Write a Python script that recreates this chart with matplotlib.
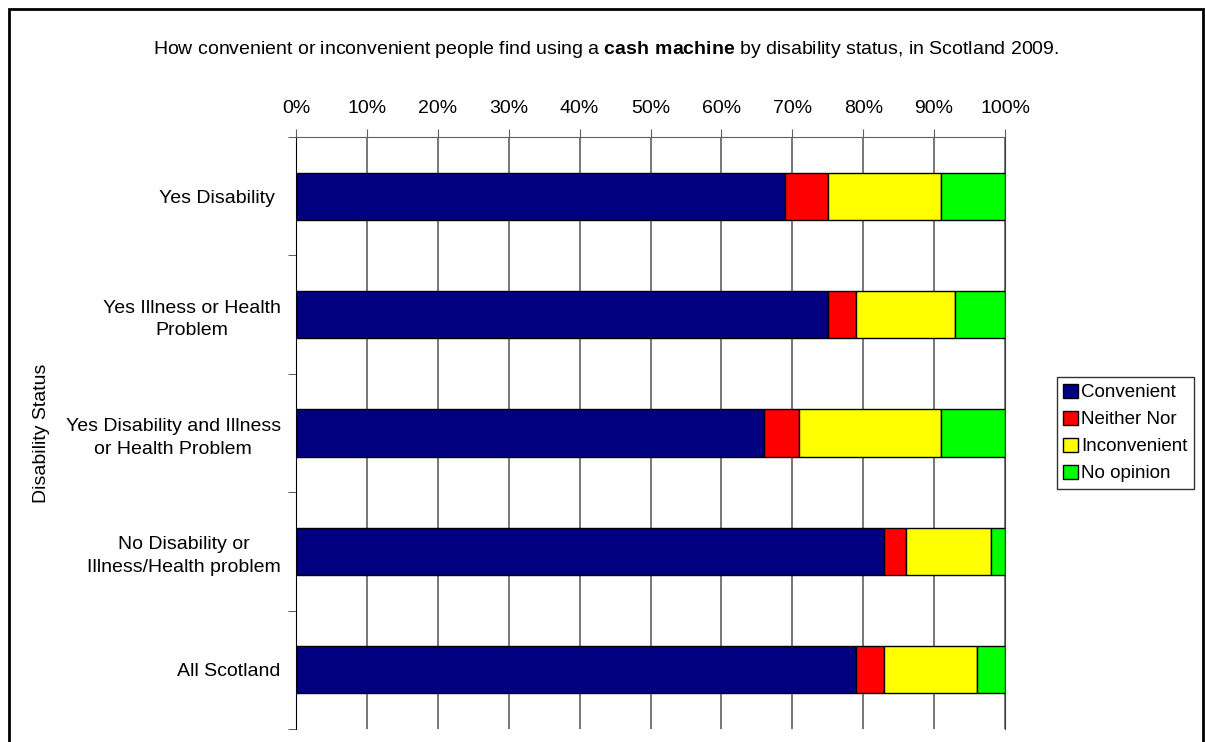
import matplotlib.pyplot as plt
from matplotlib.patches import Rectangle

plt.rcParams["font.family"] = ["Liberation Sans", "DejaVu Sans"]
plt.rcParams["mathtext.fontset"] = "custom"
plt.rcParams["mathtext.rm"] = "Liberation Sans"
plt.rcParams["mathtext.bf"] = "Liberation Sans:bold"

categories = [
    "Yes Disability ",
    "Yes Illness or Health\nProblem",
    "Yes Disability and Illness\nor Health Problem",
    "No Disability or\nIllness/Health problem",
    "All Scotland",
]
convenient = [69, 75, 66, 83, 79]
neither = [6, 4, 5, 3, 4]
inconvenient = [16, 14, 20, 12, 13]
no_opinion = [9, 7, 9, 2, 4]

series = [
    ("Convenient", convenient, "#000080"),
    ("Neither Nor", neither, "#FF0000"),
    ("Inconvenient", inconvenient, "#FFFF00"),
    ("No opinion", no_opinion, "#00FF00"),
]

fs = 14

fig = plt.figure(figsize=(12.05, 7.42), dpi=100)
ax = fig.add_axes([296 / 1205, 1 - 729 / 742, 709 / 1205, 592 / 742])

# outer frame of the chart
fig.patches.append(Rectangle((9 / 1205, -0.1), 1194 / 1205, 1.1 - 9 / 742,
                             transform=fig.transFigure, fill=False,
                             edgecolor="black", linewidth=2))

y = list(range(len(categories)))
left = [0] * len(categories)
for name, vals, color in series:
    ax.barh(y, vals, left=left, height=0.4, color=color, edgecolor="black",
            linewidth=1, label=name, zorder=3)
    left = [a + b for a, b in zip(left, vals)]

ax.set_xlim(0, 100)
ax.set_ylim(len(categories) - 0.5, -0.5)
ax.set_xticks(range(0, 101, 10))
ax.set_xticklabels([f"{v}%" for v in range(0, 101, 10)])
ax.xaxis.tick_top()
ax.xaxis.grid(True, color="#606060", linewidth=1.2, zorder=0)
ax.tick_params(axis="x", length=6, pad=8.5, labelsize=fs, color="#606060")

ax.set_yticks(y)
ax.set_yticklabels(categories)
for lab in ax.get_yticklabels():
    lab.set_multialignment("center")
    lab.set_linespacing(1.45)
ax.set_yticks([i + 0.5 for i in range(-1, len(categories))], minor=True)
ax.tick_params(axis="y", which="major", length=0, pad=11, labelsize=fs)
ax.tick_params(axis="y", which="minor", length=6, color="#404040")

ax.spines["bottom"].set_visible(False)
ax.spines["top"].set_color("#606060")
ax.spines["right"].set_color("#404040")
ax.spines["left"].set_color("black")

fig.text(42 / 1205, 1 - 433 / 742, "Disability Status", rotation=90,
         ha="center", va="center", fontsize=fs)

fig.text(606 / 1205, 1 - 49 / 742,
         "How convenient or inconvenient people find using a $\\bf{cash\\ machine}$"
         " by disability status, in Scotland 2009.",
         ha="center", va="center", fontsize=fs)

leg = ax.legend(loc="center left", bbox_to_anchor=(1.073, 0.5), fontsize=13.5,
                frameon=True, fancybox=False, edgecolor="black",
                handlelength=0.8, handleheight=0.8, handletextpad=0.15,
                labelspacing=0.5, borderpad=0.35, borderaxespad=0)
leg.get_frame().set_linewidth(1)

fig.savefig("out.png", dpi=100)
